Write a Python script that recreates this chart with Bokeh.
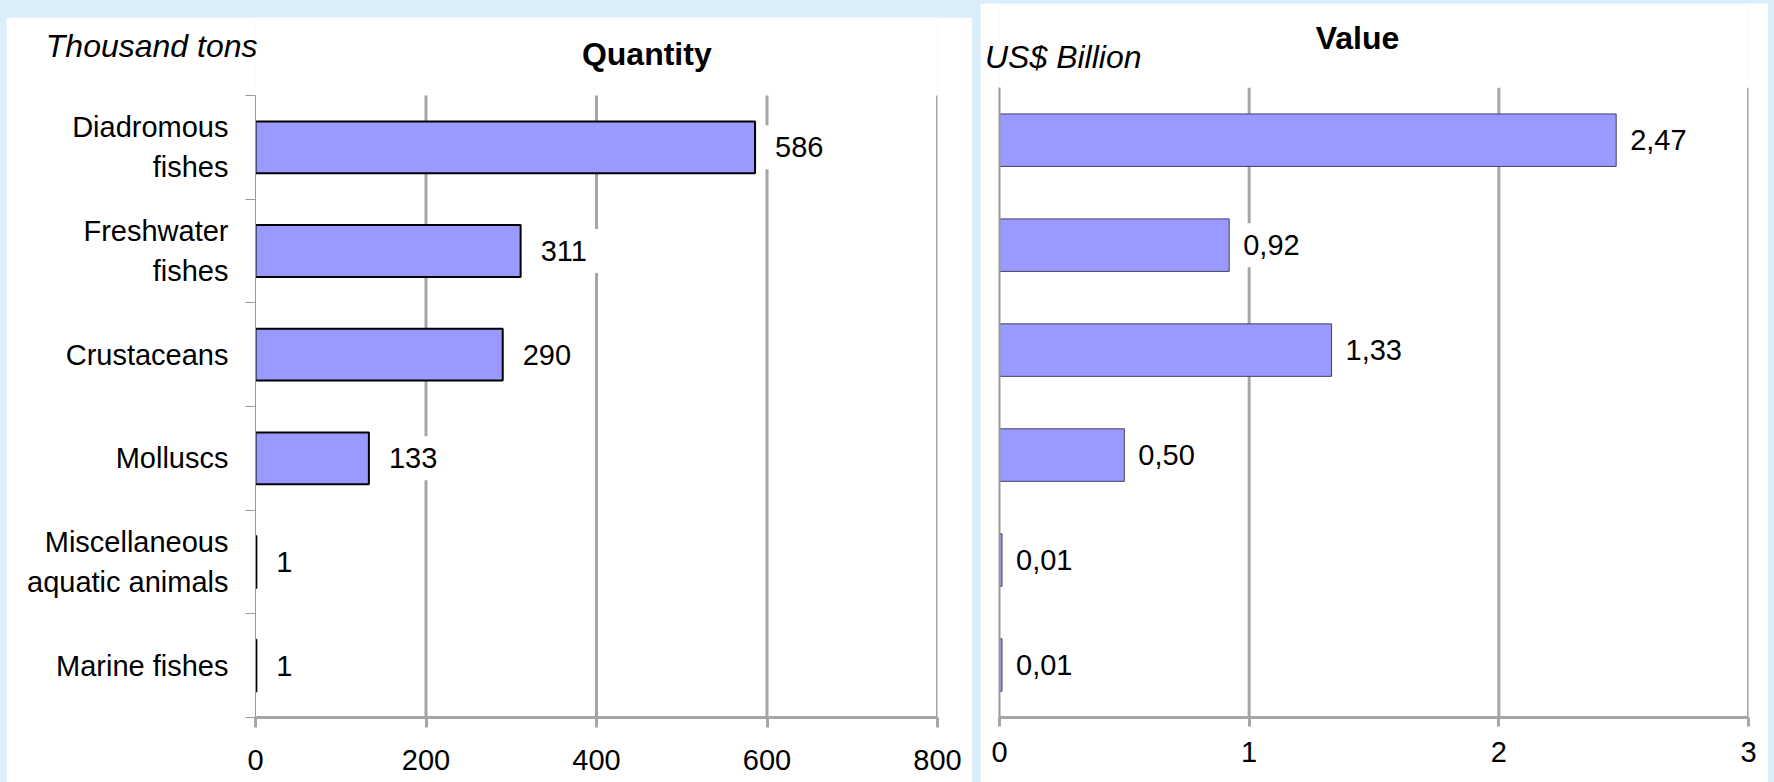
from bokeh.plotting import figure
from bokeh.models import (Range1d, LinearAxis, FixedTicker, Label, ColumnDataSource,
                          CustomJSTickFormatter)
from bokeh.layouts import row
from bokeh.core.properties import value
from bokeh.embed import file_html
from bokeh.resources import INLINE

# ---------------- data ----------------
categories = ["Diadromous\nfishes", "Freshwater\nfishes", "Crustaceans", "Molluscs",
              "Miscellaneous\naquatic animals", "Marine fishes"]
quantity = [586, 311, 290, 133, 1, 1]
quantity_labels = ["586", "311", "290", "133", "1", "1"]
value_usd = [2.47, 0.92, 1.33, 0.50, 0.01, 0.01]
value_labels = ["2,47", "0,92", "1,33", "0,50", "0,01", "0,01"]
quantity_ticks = [0, 200, 400, 600, 800]
value_ticks = [0, 1, 2, 3]
quantity_unit = "Thousand tons"
value_unit = "US$ Billion"
quantity_title = "Quantity"
value_title = "Value"

N = len(categories)
ypos = [N - 0.5 - i for i in range(N)]          # band centres, first category on top
band_edges = list(range(N + 1))

FONT = "Liberation Sans"
BG = "#dbeffb"
BAR = "#9999ff"
GRID = "#a6a6a6"
AXIS = "#999999"
FS = "29px"
HFS = "32px"
EMPTY = CustomJSTickFormatter(code="return '';")


def text_formatter(t):
    return CustomJSTickFormatter(args=dict(t=t), code="return t;")


def style_x_axis(ax, ticks, standoff, tick_out):
    ax.ticker = FixedTicker(ticks=ticks)
    ax.axis_line_color = GRID
    ax.axis_line_width = 3
    ax.major_tick_line_color = GRID
    ax.major_tick_line_width = 3
    ax.major_tick_out = tick_out
    ax.major_tick_in = 0
    ax.minor_tick_line_color = None
    ax.major_label_text_font = FONT
    ax.major_label_text_font_size = FS
    ax.major_label_text_color = "black"
    ax.major_label_standoff = standoff


def unit_axis(tick, text, standoff):
    return LinearAxis(ticker=FixedTicker(ticks=[tick]), formatter=text_formatter(text),
                      axis_line_color=None, major_tick_line_color=None,
                      minor_tick_line_color=None, major_tick_out=0, major_tick_in=0,
                      major_label_standoff=standoff, major_label_text_font=FONT,
                      major_label_text_font_size=HFS,
                      major_label_text_font_style="italic",
                      major_label_text_color="black")


# ---------------- left: quantity ----------------
src1 = ColumnDataSource(dict(y=ypos, q=quantity, lbl=quantity_labels))
grid1 = ColumnDataSource(dict(g=quantity_ticks[1:]))
p1 = figure(width=966, height=765, x_range=Range1d(0, 800), y_range=Range1d(0, 6.733),
            title=None, y_axis_location=None, output_backend="svg",
            toolbar_location=None,
            min_border_left=249, min_border_right=35, min_border_top=2,
            min_border_bottom=65, outline_line_color=None,
            background_fill_color="white", border_fill_color="white")
p1.margin = (17, 0, 0, 6)
p1.xgrid.visible = False
p1.ygrid.visible = False
style_x_axis(p1.xaxis[0], quantity_ticks, 22, 10)

tick_axis = LinearAxis(ticker=FixedTicker(ticks=band_edges), formatter=EMPTY,
                       bounds=(0, N), axis_line_color=AXIS, axis_line_width=1,
                       major_tick_line_color=AXIS, major_tick_out=10, major_tick_in=0,
                       minor_tick_line_color=None, major_label_standoff=0)
cat_axis = LinearAxis(ticker=FixedTicker(ticks=ypos),
                      formatter=CustomJSTickFormatter(
                          args=dict(labels=categories, pos=ypos),
                          code="const i = pos.indexOf(tick); return i >= 0 ? labels[i] : '';"),
                      axis_line_color=None, major_tick_line_color=None,
                      minor_tick_line_color=None, major_tick_out=0, major_tick_in=0,
                      major_label_text_font=FONT, major_label_text_font_size=FS,
                      major_label_text_color="black", major_label_standoff=-186,
                      major_label_text_line_height=1.25)
p1.add_layout(tick_axis, "left")
p1.add_layout(unit_axis(6.482, quantity_unit, -12), "left")
p1.add_layout(cat_axis, "left")

p1.segment(x0="g", x1="g", y0=0, y1=N, line_color=GRID, line_width=3, source=grid1)
p1.hbar(y="y", left=0, right="q", height=0.5, fill_color=BAR, line_color="black",
        line_width=2, source=src1)
p1.text(x="q", y="y", text="lbl", x_offset=8, text_align="left",
        text_baseline="middle", text_font=value(FONT), text_font_size=FS,
        text_color="black", background_fill_color="white", padding=12, source=src1)
p1.add_layout(Label(x=459, y=6.405, text=quantity_title, text_font=FONT,
                    text_font_size=HFS, text_font_style="bold", text_align="center",
                    text_baseline="middle", text_color="black"))

# ---------------- right: value ----------------
src2 = ColumnDataSource(dict(y=ypos, v=value_usd, lbl=value_labels))
grid2 = ColumnDataSource(dict(g=value_ticks[1:]))
p2 = figure(width=788, height=779, x_range=Range1d(0, 3), y_range=Range1d(0, 6.783),
            title=None, y_axis_location=None, output_backend="svg",
            toolbar_location=None,
            min_border_left=19, min_border_right=20, min_border_top=2,
            min_border_bottom=58, outline_line_color=None,
            background_fill_color="white", border_fill_color="white")
p2.margin = (3, 6, 0, 0)
p2.xgrid.visible = False
p2.ygrid.visible = False
style_x_axis(p2.xaxis[0], value_ticks, 15, 9)

yb = LinearAxis(ticker=FixedTicker(ticks=[]), formatter=EMPTY, bounds=(0, N),
                axis_line_color=AXIS, axis_line_width=2, major_tick_line_color=None,
                minor_tick_line_color=None, major_tick_out=0, major_tick_in=0,
                major_label_standoff=0)
p2.add_layout(yb, "left")
p2.add_layout(unit_axis(6.292, value_unit, -142), "left")

p2.segment(x0="g", x1="g", y0=0, y1=N, line_color=GRID, line_width=3, source=grid2)
p2.hbar(y="y", left=0, right="v", height=0.5, fill_color=BAR, line_color="#404060",
        line_width=1, source=src2)
p2.text(x="v", y="y", text="lbl", x_offset=2, text_align="left",
        text_baseline="middle", text_font=value(FONT), text_font_size=FS,
        text_color="black", background_fill_color="white", padding=12, source=src2)
p2.add_layout(Label(x=1.434, y=6.472, text=value_title, text_font=FONT,
                    text_font_size=HFS, text_font_style="bold", text_align="center",
                    text_baseline="middle", text_color="black"))

layout = row(p1, p2, spacing=8, styles={"background-color": BG})

open("out.html", "w").write(file_html(layout, INLINE))
